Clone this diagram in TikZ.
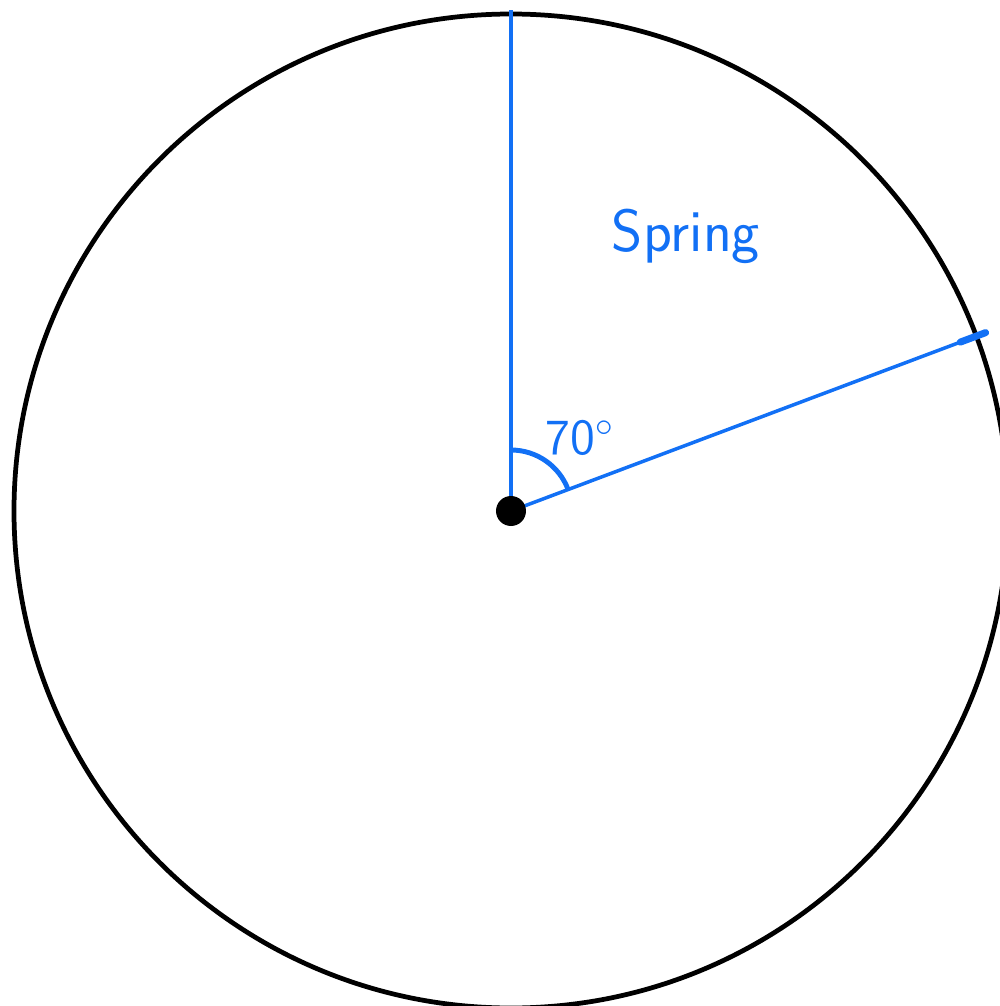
\documentclass[tikz,border=0pt]{standalone}
\usepackage{tikz}
\usetikzlibrary{calc}
\definecolor{penblue}{RGB}{18,112,245}

\begin{document}
\begin{tikzpicture}[
  rim/.style={draw=black,line width=1.35pt},
  ray/.style={penblue,line width=1pt},
  every node/.style={text=penblue,font=\sffamily}
]
  \useasboundingbox (0,0) rectangle (10,10.06);
  \coordinate (O) at (5.11,4.95);
  \coordinate (N) at ($(O)+(90:5.01)$);
  \coordinate (E) at ($(O)+(20.6:5.07)$);
  \coordinate (Ek) at ($(O)+(20.6:4.80)$);

  \draw[rim] (O) circle (4.97);
  \draw[ray] (O) -- (N);
  \draw[ray] (O) -- (E);
  \draw[penblue,line width=2pt,line cap=round] (Ek) -- (E);
  \draw[penblue,line width=1.4pt] ($(O)+(90:0.61)$) arc (90:20.6:0.61);
  \fill[black] (O) circle (0.15);

  \node[font=\sffamily\Large] (ang) at (5.80,5.68) {70$^\circ$};
  \node[font=\sffamily\fontsize{17}{20}\selectfont] (season) at (6.86,7.70) {Spring};
\end{tikzpicture}
\end{document}
